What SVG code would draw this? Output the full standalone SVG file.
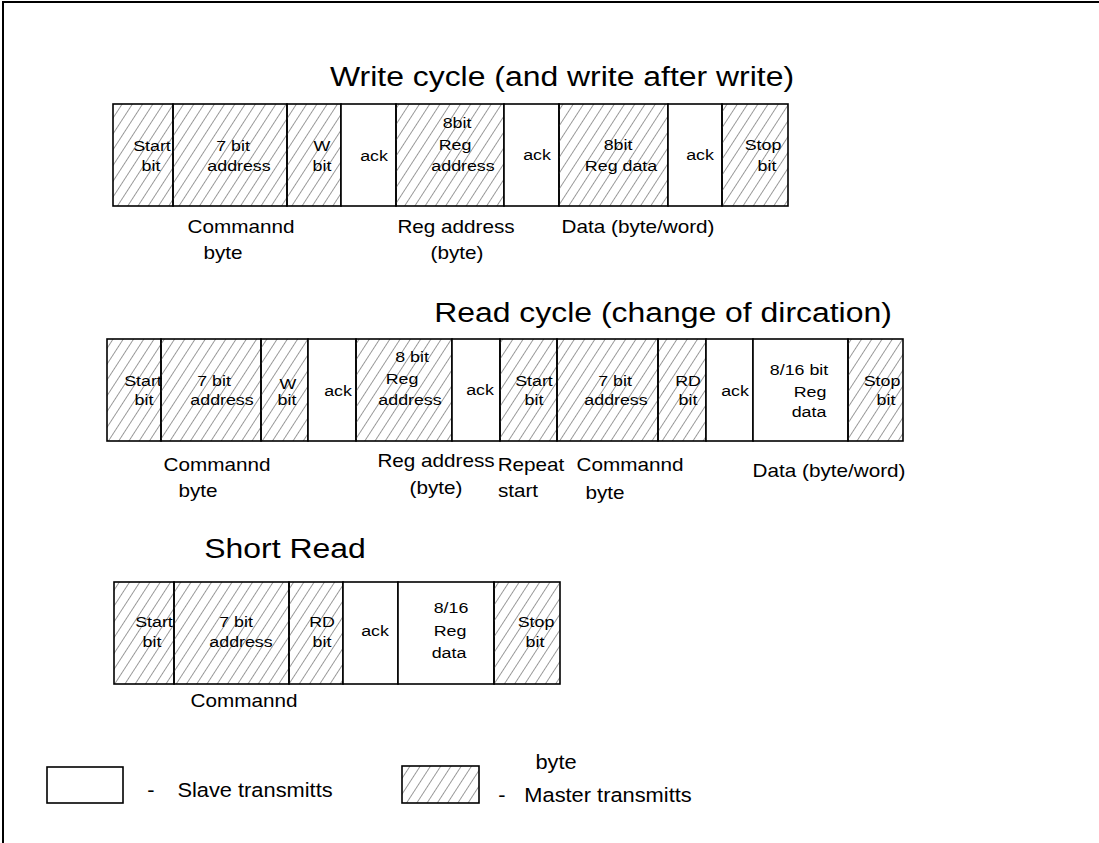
<svg xmlns="http://www.w3.org/2000/svg" width="1099" height="843" viewBox="0 0 1099 843">
<defs>
<pattern id="hatch" patternUnits="userSpaceOnUse" width="8.6" height="20" patternTransform="rotate(33)">
<line x1="4.3" y1="0" x2="4.3" y2="20" stroke="#8f8f8f" stroke-width="0.9"/>
</pattern>
</defs>
<style>
.m{fill:url(#hatch);stroke:#000;stroke-width:1.6}
.s{fill:#fff;stroke:#000;stroke-width:1.6}
text{font-family:"Liberation Sans",Arial,sans-serif;fill:#000;text-anchor:middle}
.b{font-size:15.5px}
.l{font-size:18px}
.t{font-size:28px}
.g{font-size:19.5px}
</style>
<rect x="0" y="0" width="1099" height="843" fill="#fff"/>
<g id="frame"><polyline points="3,843 3,2 1099,2" fill="none" stroke="#000" stroke-width="2"/></g>

<g id="titles">
<text class="t" transform="translate(562,86) scale(1.14,1)">Write cycle (and write after write)</text>
<text class="t" transform="translate(663,322) scale(1.14,1)">Read cycle (change of dircation)</text>
<text class="t" transform="translate(285,558) scale(1.14,1)">Short Read</text>
</g>

<g id="write-row">
<g id="w-start"><rect class="m" x="113" y="104" width="60" height="102"/>
<text class="b" transform="translate(152,151) scale(1.15,1)">Start</text><text class="b" transform="translate(151,171) scale(1.15,1)">bit</text></g>
<g id="w-addr"><rect class="m" x="173" y="104" width="114" height="102"/>
<text class="b" transform="translate(233,151) scale(1.15,1)">7 bit</text><text class="b" transform="translate(239,171) scale(1.15,1)">address</text></g>
<g id="w-wbit"><rect class="m" x="287" y="104" width="54" height="102"/>
<text class="b" transform="translate(322,151) scale(1.15,1)">W</text><text class="b" transform="translate(322,171) scale(1.15,1)">bit</text></g>
<g id="w-ack1"><rect class="s" x="341" y="104" width="55" height="102"/>
<text class="b" transform="translate(374,161) scale(1.15,1)">ack</text></g>
<g id="w-reg"><rect class="m" x="396" y="104" width="108" height="102"/>
<text class="b" transform="translate(457,128) scale(1.15,1)">8bit</text><text class="b" transform="translate(455,150) scale(1.15,1)">Reg</text><text class="b" transform="translate(463,171) scale(1.15,1)">address</text></g>
<g id="w-ack2"><rect class="s" x="504" y="104" width="55" height="102"/>
<text class="b" transform="translate(537,160) scale(1.15,1)">ack</text></g>
<g id="w-data"><rect class="m" x="559" y="104" width="109" height="102"/>
<text class="b" transform="translate(618,150) scale(1.15,1)">8bit</text><text class="b" transform="translate(621,171) scale(1.15,1)">Reg data</text></g>
<g id="w-ack3"><rect class="s" x="668" y="104" width="54" height="102"/>
<text class="b" transform="translate(700,160) scale(1.15,1)">ack</text></g>
<g id="w-stop"><rect class="m" x="722" y="104" width="66" height="102"/>
<text class="b" transform="translate(763,150) scale(1.15,1)">Stop</text><text class="b" transform="translate(767,171) scale(1.15,1)">bit</text></g>
<g id="w-labels">
<text class="l" transform="translate(241,233) scale(1.15,1)">Commannd</text>
<text class="l" transform="translate(223,259) scale(1.15,1)">byte</text>
<text class="l" transform="translate(456,233) scale(1.15,1)">Reg address</text>
<text class="l" transform="translate(457,259) scale(1.15,1)">(byte)</text>
<text class="l" transform="translate(638,233) scale(1.15,1)">Data (byte/word)</text>
</g>
</g>

<g id="read-row">
<g id="r-start"><rect class="m" x="107" y="339" width="54" height="102"/>
<text class="b" transform="translate(143,386) scale(1.15,1)">Start</text><text class="b" transform="translate(144,405) scale(1.15,1)">bit</text></g>
<g id="r-addr"><rect class="m" x="161" y="339" width="100" height="102"/>
<text class="b" transform="translate(214,386) scale(1.15,1)">7 bit</text><text class="b" transform="translate(222,405) scale(1.15,1)">address</text></g>
<g id="r-wbit"><rect class="m" x="261" y="339" width="47" height="102"/>
<text class="b" transform="translate(288,389) scale(1.15,1)">W</text><text class="b" transform="translate(287,405) scale(1.15,1)">bit</text></g>
<g id="r-ack1"><rect class="s" x="308" y="339" width="48" height="102"/>
<text class="b" transform="translate(338,396) scale(1.15,1)">ack</text></g>
<g id="r-reg"><rect class="m" x="356" y="339" width="96" height="102"/>
<text class="b" transform="translate(412,362) scale(1.15,1)">8 bit</text><text class="b" transform="translate(402,384) scale(1.15,1)">Reg</text><text class="b" transform="translate(410,405) scale(1.15,1)">address</text></g>
<g id="r-ack2"><rect class="s" x="452" y="339" width="48" height="102"/>
<text class="b" transform="translate(480,395) scale(1.15,1)">ack</text></g>
<g id="r-start2"><rect class="m" x="500" y="339" width="57" height="102"/>
<text class="b" transform="translate(534,386) scale(1.15,1)">Start</text><text class="b" transform="translate(534,405) scale(1.15,1)">bit</text></g>
<g id="r-addr2"><rect class="m" x="557" y="339" width="101" height="102"/>
<text class="b" transform="translate(615,386) scale(1.15,1)">7 bit</text><text class="b" transform="translate(616,405) scale(1.15,1)">address</text></g>
<g id="r-rdbit"><rect class="m" x="658" y="339" width="48" height="102"/>
<text class="b" transform="translate(688,386) scale(1.15,1)">RD</text><text class="b" transform="translate(688,405) scale(1.15,1)">bit</text></g>
<g id="r-ack3"><rect class="s" x="706" y="339" width="47" height="102"/>
<text class="b" transform="translate(735,396) scale(1.15,1)">ack</text></g>
<g id="r-data"><rect class="s" x="753" y="339" width="95" height="102"/>
<text class="b" transform="translate(799,375) scale(1.15,1)">8/16  bit</text><text class="b" transform="translate(810,397) scale(1.15,1)">Reg</text><text class="b" transform="translate(809,417) scale(1.15,1)">data</text></g>
<g id="r-stop"><rect class="m" x="848" y="339" width="55" height="102"/>
<text class="b" transform="translate(882,386) scale(1.15,1)">Stop</text><text class="b" transform="translate(886,405) scale(1.15,1)">bit</text></g>
<g id="r-labels">
<text class="l" transform="translate(217,471) scale(1.15,1)">Commannd</text>
<text class="l" transform="translate(198,497) scale(1.15,1)">byte</text>
<text class="l" transform="translate(436,467) scale(1.15,1)">Reg address</text>
<text class="l" transform="translate(436,494) scale(1.15,1)">(byte)</text>
<text class="l" transform="translate(531,471) scale(1.15,1)">Repeat</text>
<text class="l" transform="translate(518,497) scale(1.15,1)">start</text>
<text class="l" transform="translate(630,471) scale(1.15,1)">Commannd</text>
<text class="l" transform="translate(605,499) scale(1.15,1)">byte</text>
<text class="l" transform="translate(829,477) scale(1.15,1)">Data (byte/word)</text>
</g>
</g>

<g id="short-row">
<g id="s-start"><rect class="m" x="114" y="582" width="60" height="102"/>
<text class="b" transform="translate(154,627) scale(1.15,1)">Start</text><text class="b" transform="translate(152,647) scale(1.15,1)">bit</text></g>
<g id="s-addr"><rect class="m" x="174" y="582" width="115" height="102"/>
<text class="b" transform="translate(236,627) scale(1.15,1)">7 bit</text><text class="b" transform="translate(241,647) scale(1.15,1)">address</text></g>
<g id="s-rdbit"><rect class="m" x="289" y="582" width="54" height="102"/>
<text class="b" transform="translate(322,627) scale(1.15,1)">RD</text><text class="b" transform="translate(322,647) scale(1.15,1)">bit</text></g>
<g id="s-ack"><rect class="s" x="343" y="582" width="55" height="102"/>
<text class="b" transform="translate(375,636) scale(1.15,1)">ack</text></g>
<g id="s-data"><rect class="s" x="398" y="582" width="96" height="102"/>
<text class="b" transform="translate(451,613) scale(1.15,1)">8/16</text><text class="b" transform="translate(450,636) scale(1.15,1)">Reg</text><text class="b" transform="translate(449,658) scale(1.15,1)">data</text></g>
<g id="s-stop"><rect class="m" x="494" y="582" width="66" height="102"/>
<text class="b" transform="translate(536,627) scale(1.15,1)">Stop</text><text class="b" transform="translate(535,647) scale(1.15,1)">bit</text></g>
<g id="s-labels">
<text class="l" transform="translate(244,707) scale(1.15,1)">Commannd</text>
</g>
</g>

<g id="legend">
<g id="legend-slave"><rect class="s" x="47" y="767" width="76" height="36"/>
<text class="g" transform="translate(151,797) scale(1.12,1)">-</text>
<text class="g" transform="translate(255,797) scale(1.12,1)">Slave transmitts</text></g>
<g id="legend-master"><rect class="m" x="402" y="766" width="77" height="37"/>
<text class="g" transform="translate(556,769) scale(1.12,1)">byte</text>
<text class="g" transform="translate(502,802) scale(1.12,1)">-</text>
<text class="g" transform="translate(608,802) scale(1.12,1)">Master transmitts</text></g>
</g>
</svg>
